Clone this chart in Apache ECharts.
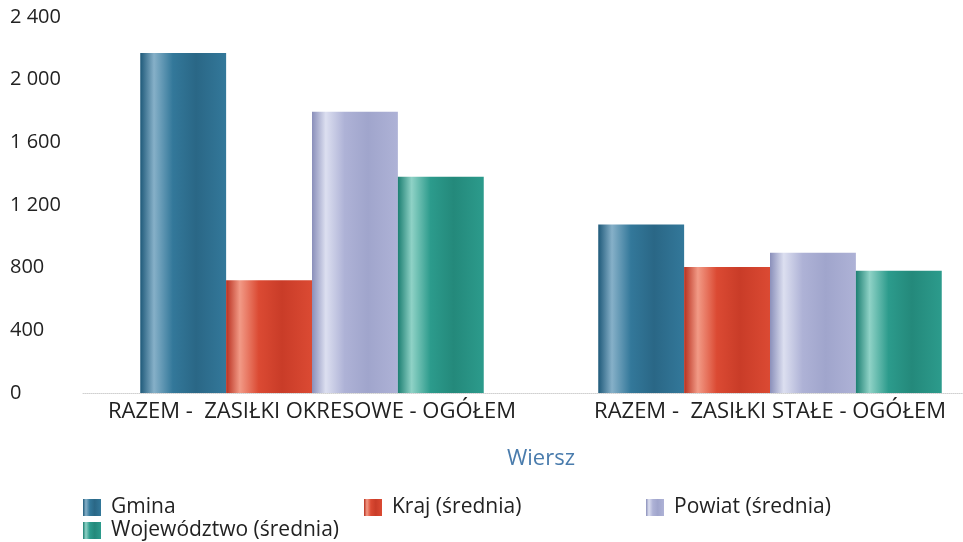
<!DOCTYPE html>
<html>
<head>
<meta charset="utf-8">
<script src="https://cdn.jsdelivr.net/npm/echarts@6/dist/echarts.min.js"></script>
<style>
  html, body { margin: 0; padding: 0; background: #fff; }
  #chart { width: 963px; height: 542px; }
</style>
</head>
<body>
<div id="chart"></div>
<script>
var categories = ['RAZEM -  ZASIŁKI OKRESOWE - OGÓŁEM', 'RAZEM -  ZASIŁKI STAŁE - OGÓŁEM'];
var seriesNames = ['Gmina', 'Kraj (średnia)', 'Powiat (średnia)', 'Województwo (średnia)'];
var gmina = [2170, 1075];
var kraj = [720, 805];
var powiat = [1795, 895];
var wojewodztwo = [1380, 780];
var yTicks = [0, 400, 800, 1200, 1600, 2000, 2400];

// dark edge, light stripe, base, darker band
var palettes = [
  ['#1f5a7a', '#86b0c8', '#33789a', '#2a6786'],
  ['#b8301f', '#f29a86', '#db4a33', '#c93c28'],
  ['#8a8fba', '#dcdff0', '#aeb2d6', '#a0a5cc'],
  ['#1c7f72', '#8fd2c6', '#2c9b8c', '#24897b']
];

function cyl(p) {
  return new echarts.graphic.LinearGradient(0, 0, 1, 0, [
    { offset: 0, color: p[0] },
    { offset: 0.16, color: p[1] },
    { offset: 0.38, color: p[2] },
    { offset: 0.65, color: p[3] },
    { offset: 1, color: p[2] }
  ]);
}

var values = [gmina, kraj, powiat, wojewodztwo];
var font = '"Open Sans", "Noto Sans", sans-serif';

var chart = echarts.init(document.getElementById('chart'));
var legendBase = {
  orient: 'vertical',
  top: 492,
  height: 50,
  itemWidth: 18,
  itemHeight: 17,
  itemGap: 2,
  icon: 'rect',
  textStyle: { fontSize: 21, lineHeight: 17, color: '#222', fontFamily: font, padding: [0, 0, 0, 5] }
};
var option = {
  animation: false,
  grid: { left: 83, top: 17, width: 916, height: 376, outerBoundsMode: 'none' },
  legend: [
    Object.assign({ left: 78, data: [seriesNames[0], seriesNames[3]] }, legendBase),
    Object.assign({ left: 359, data: [seriesNames[1]] }, legendBase),
    Object.assign({ left: 641, data: [seriesNames[2]] }, legendBase)
  ],
  xAxis: {
    type: 'category',
    data: categories,
    name: 'Wiersz',
    nameLocation: 'middle',
    nameGap: 55,
    nameTextStyle: { fontSize: 22, color: '#4a7cad', fontFamily: font },
    axisTick: { show: false },
    axisLine: { lineStyle: { color: '#d0d0d0', type: 'dotted', width: 1 } },
    axisLabel: { fontSize: 22, color: '#222', margin: 8, interval: 0, hideOverlap: false, fontFamily: font }
  },
  yAxis: {
    type: 'value',
    min: yTicks[0],
    max: yTicks[yTicks.length - 1],
    interval: 400,
    splitLine: { show: false },
    axisLine: { show: false },
    axisTick: { show: false },
    axisLabel: {
      fontSize: 20,
      color: '#222',
      fontFamily: font,
      align: 'left',
      margin: 73,
      formatter: function (v) {
        return String(v).replace(/\B(?=(\d{3})+(?!\d))/g, ' ');
      }
    }
  },
  series: seriesNames.map(function (name, i) {
    return {
      name: name,
      type: 'bar',
      data: values[i],
      barGap: '0%',
      barCategoryGap: '25%',
      itemStyle: { color: cyl(palettes[i]) }
    };
  })
};
chart.setOption(option);
</script>
</body>
</html>
